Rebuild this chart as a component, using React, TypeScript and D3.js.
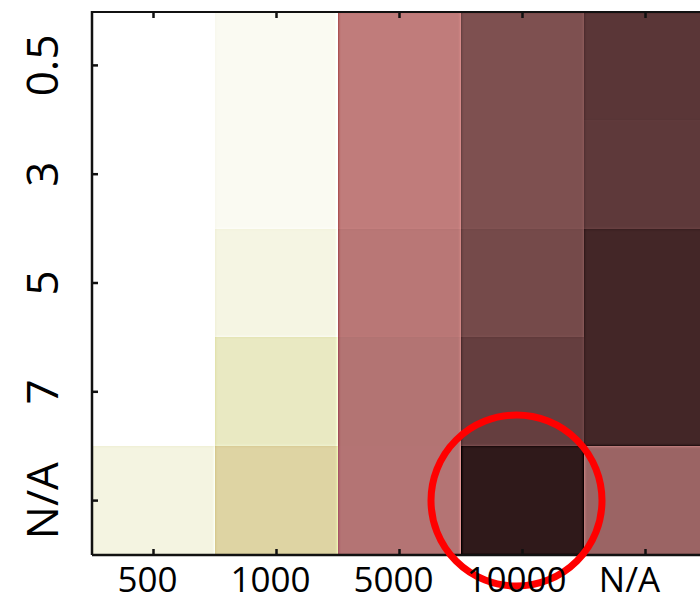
import React from "react";
import * as d3 from "d3";

// Column categories (dose) and row categories (time)
const doseLabels = ["500", "1000", "5000", "10000", "N/A"];
const timeLabels = ["0.5", "3", "5", "7", "N/A"];

// Intensity per dose, one array per time row
const row0_5 = [0, 0.22, 2.0, 3.76, 4.63];
const row3 = [0, 0.22, 2.0, 3.76, 4.53];
const row5 = [0, 0.46, 2.2, 4.0, 5.22];
const row7 = [0, 1.0, 2.35, 4.37, 5.22];
const rowNA = [0.5, 1.5, 2.32, 5.84, 3.0];

const rows = [row0_5, row3, row5, row7, rowNA];

// Highlighted cell
const highlight = { dose: "10000", time: "N/A" };

const W = 700;
const H = 601;
const plot = { left: 92, top: 11, right: 707, bottom: 555 };

export default function App() {
  const x = d3.scaleBand<string>().domain(doseLabels).range([plot.left, plot.right]);
  const y = d3.scaleBand<string>().domain(timeLabels).range([plot.top, plot.bottom]);

  const color = d3
    .scaleLinear<string>()
    .domain([0, 1, 1.5, 2, 3, 4, 5, 6])
    .range(["#ffffff", "#e9e9c2", "#ded4a3", "#c07c7b", "#9b6464", "#754a4a", "#4a2a2c", "#2a1616"])
    .interpolate(d3.interpolateRgb)
    .clamp(true);

  const cells = rows.flatMap((vals, ri) =>
    vals.map((v, ci) => ({ dose: doseLabels[ci], time: timeLabels[ri], v }))
  );

  const bw = x.bandwidth();
  const bh = y.bandwidth();
  const font = "'Open Sans', 'Liberation Sans', sans-serif";

  return (
    <svg
      width={W}
      height={H}
      style={{ position: "absolute", left: 0, top: 0, background: "#fff" }}
    >
      <defs>
        <clipPath id="plotClip">
          <rect x={plot.left} y={plot.top} width={plot.right - plot.left} height={plot.bottom - plot.top} />
        </clipPath>
        <filter
          id="sharpen"
          filterUnits="userSpaceOnUse"
          x={0}
          y={0}
          width={W}
          height={H}
          colorInterpolationFilters="sRGB"
        >
          <feGaussianBlur in="SourceGraphic" stdDeviation={1.8} result="soft" />
          <feComposite in="SourceGraphic" in2="soft" operator="arithmetic" k1={0} k2={1.9} k3={-0.9} k4={0} />
        </filter>
      </defs>

      <g clipPath="url(#plotClip)">
        <g filter="url(#sharpen)" shapeRendering="crispEdges">
          <rect x={plot.left - 20} y={plot.top - 20} width={plot.right - plot.left + 40} height={plot.bottom - plot.top + 40} fill="#fff" />
          {cells.map((c) => (
            <rect
              key={c.dose + "-" + c.time}
              x={Math.round(x(c.dose)!)}
              y={Math.round(y(c.time)!)}
              width={Math.round(x(c.dose)! + bw) - Math.round(x(c.dose)!) + 1}
              height={Math.round(y(c.time)! + bh) - Math.round(y(c.time)!) + 1}
              fill={color(c.v)}
            />
          ))}
        </g>
      </g>

      {/* frame */}
      <g stroke="#111" strokeWidth={2.5} fill="none">
        <line x1={plot.left} x2={plot.left} y1={plot.top} y2={plot.bottom} />
        <line x1={plot.left} x2={W} y1={plot.bottom} y2={plot.bottom} />
        <line x1={plot.left} x2={W} y1={plot.top + 1} y2={plot.top + 1} strokeWidth={2} />
        {timeLabels.map((t) => (
          <line key={"lt" + t} x1={plot.left} x2={plot.left + 6} y1={y(t)! + bh / 2} y2={y(t)! + bh / 2} />
        ))}
        {doseLabels.map((d) => (
          <g key={"tk" + d}>
            <line x1={x(d)! + bw / 2} x2={x(d)! + bw / 2} y1={plot.bottom} y2={plot.bottom - 6} />
            <line x1={x(d)! + bw / 2} x2={x(d)! + bw / 2} y1={plot.top + 1} y2={plot.top + 7} />
          </g>
        ))}
      </g>

      {/* highlight ring */}
      <circle
        cx={x(highlight.dose)! + bw / 2 - 6}
        cy={y(highlight.time)! + bh / 2}
        r={85.5}
        fill="none"
        stroke="#ff0000"
        strokeWidth={7}
      />

      {/* axis labels */}
      <g fontFamily={font} fill="#000">
        {doseLabels.map((d, i) => (
          <text
            key={"xl" + d}
            x={x(d)! + bw / 2 - (i === doseLabels.length - 1 ? 16 : 6)}
            y={592}
            fontSize={35}
            textAnchor="middle"
          >
            {d}
          </text>
        ))}
        {timeLabels.map((t) => (
          <text
            key={"yl" + t}
            transform={`translate(58,${y(t)! + bh / 2}) rotate(-90)`}
            fontSize={44}
            textAnchor="middle"
          >
            {t}
          </text>
        ))}
      </g>
    </svg>
  );
}
